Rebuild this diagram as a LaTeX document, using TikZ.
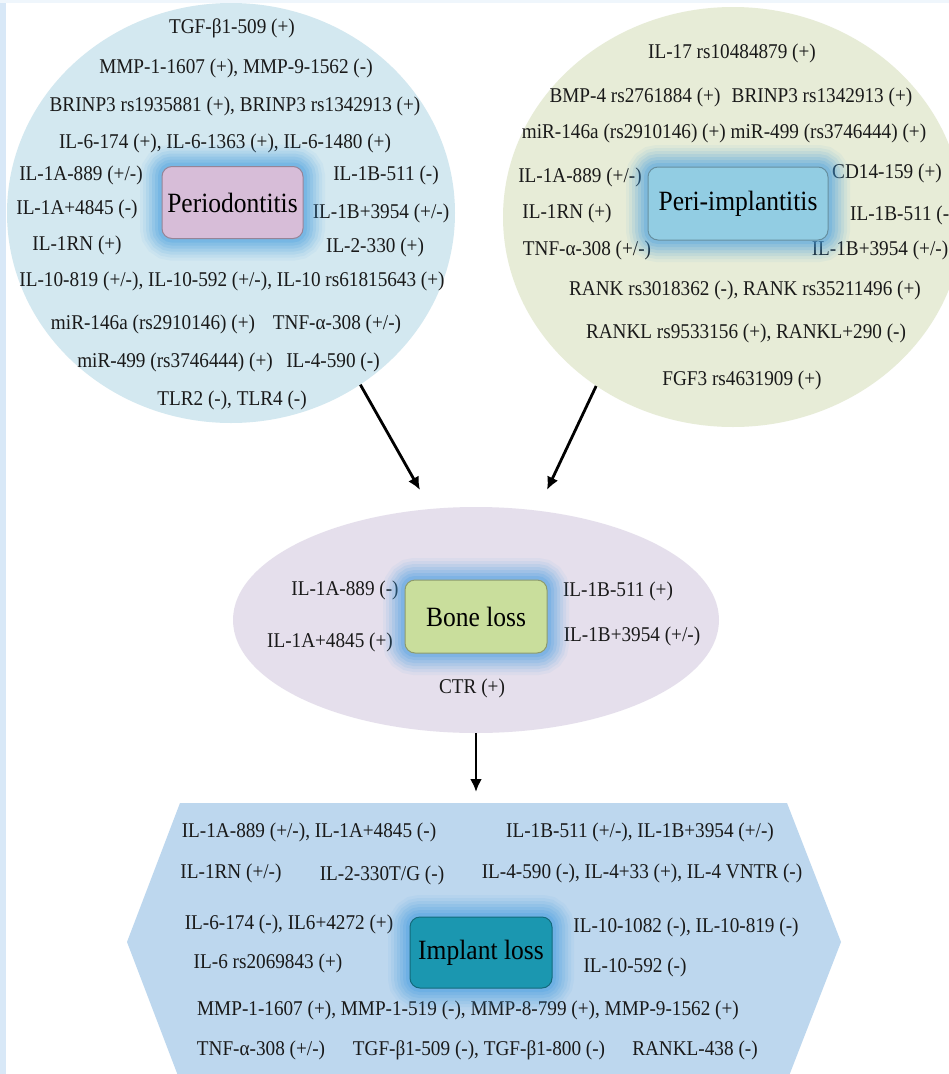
\documentclass[tikz,border=0pt]{standalone}
\usepackage{fontspec}
\setmainfont[FakeStretch=0.915]{Liberation Serif}
\usetikzlibrary{shapes.geometric,arrows.meta,calc}

\definecolor{stripblue}{HTML}{D8E8F7}
\definecolor{periofill}{HTML}{D3E8F0}
\definecolor{implfill}{HTML}{E7ECD7}
\definecolor{bonefill}{HTML}{E5DFEC}
\definecolor{lossfill}{HTML}{BDD7EE}
\definecolor{haloblue}{HTML}{3E9BE0}
\definecolor{perioboxfill}{HTML}{D7BDD8}
\definecolor{implboxfill}{HTML}{92CDE3}
\definecolor{boneboxfill}{HTML}{C9DE9C}
\definecolor{lossboxfill}{HTML}{1B97B0}

\begin{document}
\begin{tikzpicture}[
        x=1pt, y=-1pt,
        gene/.style={font=\fontsize{21}{24}\selectfont, text=black!90, inner sep=0pt},
        haloed/.style={
            preaction={draw=haloblue, line width=44pt, opacity=0.06},
            preaction={draw=haloblue, line width=38pt, opacity=0.08},
            preaction={draw=haloblue, line width=32pt, opacity=0.1},
            preaction={draw=haloblue, line width=26pt, opacity=0.12},
            preaction={draw=haloblue, line width=20pt, opacity=0.14},
            preaction={draw=haloblue, line width=14pt, opacity=0.16},
            preaction={draw=haloblue, line width=8pt, opacity=0.2}},
        keybox/.style={rounded corners=10pt, haloed, inner sep=0pt, line width=1pt,
            font=\fontsize{27.9}{30}\selectfont, minimum width=142pt, minimum height=72pt},
        cloud/.style={ellipse, inner sep=0pt},
        link/.style={-{Latex[length=13pt,width=12pt]}, line width=2.8pt}
    ]
    \useasboundingbox (0,0) rectangle (949,1074);
    \clip (0,0) rectangle (949,1074);
    \fill[white] (0,0) rectangle (949,1074);
    \fill[stripblue] (0,0) rectangle (6,1074);
    \fill[stripblue!40] (0,0) rectangle (949,3);

    \node[cloud, fill=periofill, minimum width=448pt, minimum height=420pt] (perio) at (231,213) {};
    \node[cloud, fill=implfill, minimum width=460pt, minimum height=420pt] (impl) at (733,217) {};
    \node[cloud, fill=bonefill, minimum width=486pt, minimum height=226pt] (bone) at (476,620) {};
    \fill[lossfill] (180,803) -- (787,803) -- (841,942) -- (787,1081) -- (180,1081) -- (127,942) -- cycle;
    \coordinate (losstop) at (476,803);
    \coordinate (boneleft) at (420,490);
    \coordinate (boneright) at (547,490);

    \draw[link] (perio.-53) -- (boneleft);
    \draw[link] (impl.-129) -- (boneright);
    \draw[link, shorten >=11pt] (bone.south) -- (losstop);

    \foreach \gx/\gy/\gtext [count=\n] in {
        232/28/{TGF-β1-509 (+)},
        236/68/{MMP-1-1607 (+), MMP-9-1562 (-)},
        235/106/{BRINP3 rs1935881 (+), BRINP3 rs1342913 (+)},
        225/143/{IL-6-174 (+), IL-6-1363 (+), IL-6-1480 (+)},
        81/175/{IL-1A-889 (+/-)},
        386/175/{IL-1B-511 (-)},
        77/209/{IL-1A+4845 (-)},
        381/213/{IL-1B+3954 (+/-)},
        77/245/{IL-1RN (+)},
        375/247/{IL-2-330 (+)},
        232/281/{IL-10-819 (+/-), IL-10-592 (+/-), IL-10 rs61815643 (+)},
        153/324/{miR-146a (rs2910146) (+)},
        337/324/{TNF-α-308 (+/-)},
        175/362/{miR-499 (rs3746444) (+)},
        333/362/{IL-4-590 (-)},
        232/400/{TLR2 (-), TLR4 (-)}}
        \node[gene] (pg\n) at (\gx,\gy) {\gtext};

    \foreach \gx/\gy/\gtext [count=\n] in {
        732/53/{IL-17 rs10484879 (+)},
        635/97/{BMP-4 rs2761884 (+)},
        822/97/{BRINP3 rs1342913 (+)},
        724/133/{miR-146a (rs2910146) (+) miR-499 (rs3746444) (+)},
        580/177/{IL-1A-889 (+/-)},
        887/173/{CD14-159 (+)},
        567/213/{IL-1RN (+)},
        587/250/{TNF-α-308 (+/-)},
        880/250/{IL-1B+3954 (+/-)},
        745/290/{RANK rs3018362 (-), RANK rs35211496 (+)},
        746/333/{RANKL rs9533156 (+), RANKL+290 (-)},
        742/380/{FGF3 rs4631909 (+)}}
        \node[gene] (ig\n) at (\gx,\gy) {\gtext};
    \node[gene, anchor=west] (igcut) at (850,215) {IL-1B-511 (-)};

    \foreach \gx/\gy/\gtext [count=\n] in {
        345/590/{IL-1A-889 (-)},
        618/591/{IL-1B-511 (+)},
        330/642/{IL-1A+4845 (+)},
        632/636/{IL-1B+3954 (+/-)},
        472/688/{CTR (+)}}
        \node[gene] (bg\n) at (\gx,\gy) {\gtext};

    \foreach \gx/\gy/\gtext [count=\n] in {
        309/832/{IL-1A-889 (+/-), IL-1A+4845 (-)},
        640/832/{IL-1B-511 (+/-), IL-1B+3954 (+/-)},
        231/873/{IL-1RN (+/-)},
        382/875/{IL-2-330T/G (-)},
        642/873/{IL-4-590 (-), IL-4+33 (+), IL-4 VNTR (-)},
        289/924/{IL-6-174 (-), IL6+4272 (+)},
        686/927/{IL-10-1082 (-), IL-10-819 (-)},
        268/963/{IL-6 rs2069843 (+)},
        635/967/{IL-10-592 (-)},
        468/1010/{MMP-1-1607 (+), MMP-1-519 (-), MMP-8-799 (+), MMP-9-1562 (+)},
        261/1050/{TNF-α-308 (+/-)},
        479/1050/{TGF-β1-509 (-), TGF-β1-800 (-)},
        695/1050/{RANKL-438 (-)}}
        \node[gene] (lg\n) at (\gx,\gy) {\gtext};

    \node[keybox, fill=perioboxfill, draw=perioboxfill!70!black, minimum width=141pt] (periobox) at (232.5,202.5) {Periodontitis};
    \node[keybox, fill=implboxfill, draw=implboxfill!70!black, minimum width=180pt, minimum height=73pt] (implbox) at (738,203.5) {Peri-implantitis};
    \node[keybox, fill=boneboxfill, draw=boneboxfill!70!black, minimum height=73pt] (bonebox) at (476,616.5) {Bone loss};
    \node[keybox, fill=lossboxfill, draw=lossboxfill!70!black, minimum height=71pt] (lossbox) at (481,952.5) {Implant loss};
\end{tikzpicture}
\end{document}
